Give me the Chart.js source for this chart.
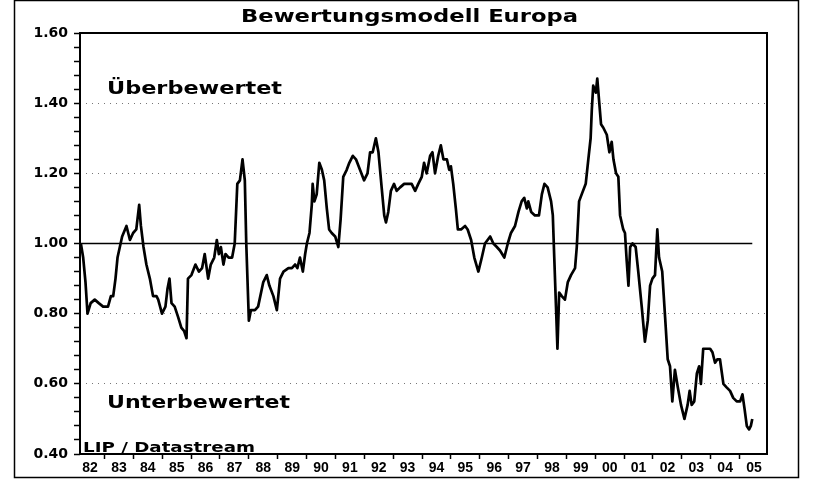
<!DOCTYPE html>
<html>
<head>
<meta charset="utf-8">
<title>Bewertungsmodell Europa</title>
<script src="https://cdn.jsdelivr.net/npm/chart.js@4/dist/chart.umd.min.js"></script>
<style>
    body { margin: 0; background: #fff; }
</style>
</head>
<body>
<canvas id="valuationChart" width="819" height="485"></canvas>
<script>
const TITLE = "Bewertungsmodell Europa";
const LABEL_OVER = "Überbewertet";
const LABEL_UNDER = "Unterbewertet";
const SOURCE = "LIP / Datastream";

const FIRST_YEAR = 1982;
const X_MIN = 1982.15;
const X_MAX = 2005.95;
const Y_MIN = 0.4;
const Y_MAX = 1.6;
const FAIR_VALUE = 1.0;

const yearLabels = ["82", "83", "84", "85", "86", "87", "88", "89", "90", "91", "92", "93",
    "94", "95", "96", "97", "98", "99", "00", "01", "02", "03", "04", "05"];

// decimal years
const dates = [
    1982.18, 1982.26, 1982.34, 1982.41, 1982.52, 1982.66, 1982.80, 1982.95, 1983.12, 1983.22,
    1983.30, 1983.38, 1983.45, 1983.53, 1983.61, 1983.76, 1983.88, 1983.99, 1984.10, 1984.20,
    1984.26, 1984.35, 1984.45, 1984.57, 1984.68, 1984.80, 1984.86, 1984.99, 1985.11, 1985.18,
    1985.25, 1985.32, 1985.43, 1985.55, 1985.66, 1985.76, 1985.84, 1985.89, 1986.01, 1986.15,
    1986.27, 1986.38, 1986.47, 1986.59, 1986.68, 1986.80, 1986.89, 1986.96, 1987.03, 1987.12,
    1987.19, 1987.30, 1987.42, 1987.51, 1987.60, 1987.69, 1987.78, 1987.86, 1987.91, 1988.00,
    1988.07, 1988.21, 1988.32, 1988.50, 1988.62, 1988.71, 1988.85, 1988.97, 1989.08, 1989.20,
    1989.37, 1989.49, 1989.60, 1989.68, 1989.77, 1989.87, 1989.95, 1990.01, 1990.10, 1990.18,
    1990.21, 1990.27, 1990.35, 1990.44, 1990.53, 1990.61, 1990.70, 1990.78, 1990.87, 1990.99,
    1991.10, 1991.18, 1991.27, 1991.39, 1991.48, 1991.60, 1991.71, 1991.85, 1991.99, 1992.11,
    1992.20, 1992.29, 1992.40, 1992.49, 1992.60, 1992.69, 1992.75, 1992.83, 1992.92, 1993.03,
    1993.12, 1993.24, 1993.38, 1993.53, 1993.64, 1993.76, 1993.87, 1993.99, 1994.07, 1994.16,
    1994.28, 1994.36, 1994.45, 1994.56, 1994.65, 1994.74, 1994.86, 1994.94, 1995.00, 1995.08,
    1995.17, 1995.24, 1995.35, 1995.49, 1995.58, 1995.70, 1995.81, 1995.95, 1996.07, 1996.18,
    1996.36, 1996.47, 1996.59, 1996.70, 1996.85, 1996.97, 1997.08, 1997.22, 1997.34, 1997.45,
    1997.54, 1997.63, 1997.68, 1997.78, 1997.91, 1998.05, 1998.15, 1998.24, 1998.35, 1998.47,
    1998.53, 1998.58, 1998.64, 1998.69, 1998.75, 1998.84, 1998.95, 1999.05, 1999.16, 1999.30,
    1999.36, 1999.44, 1999.53, 1999.67, 1999.76, 1999.84, 1999.88, 1999.93, 2000.02, 2000.07,
    2000.13, 2000.20, 2000.28, 2000.40, 2000.49, 2000.57, 2000.63, 2000.72, 2000.80, 2000.86,
    2000.97, 2001.03, 2001.09, 2001.15, 2001.21, 2001.29, 2001.40, 2001.49, 2001.61, 2001.72,
    2001.82, 2001.90, 2001.98, 2002.07, 2002.15, 2002.21, 2002.32, 2002.42, 2002.51, 2002.59,
    2002.67, 2002.76, 2002.86, 2002.97, 2003.09, 2003.20, 2003.27, 2003.34, 2003.43, 2003.52,
    2003.60, 2003.66, 2003.74, 2003.86, 2003.98, 2004.06, 2004.15, 2004.23, 2004.32, 2004.44,
    2004.55, 2004.67, 2004.78, 2004.90, 2005.02, 2005.10, 2005.17, 2005.25, 2005.33, 2005.39,
    2005.44
];

const ratio = [
    1.00, 0.96, 0.89, 0.80, 0.83, 0.84, 0.83, 0.82, 0.82, 0.85,
    0.85, 0.90, 0.96, 0.99, 1.02, 1.05, 1.01, 1.03, 1.04, 1.11,
    1.05, 0.99, 0.94, 0.90, 0.85, 0.85, 0.84, 0.80, 0.82, 0.87,
    0.90, 0.83, 0.82, 0.79, 0.76, 0.75, 0.73, 0.90, 0.91, 0.94,
    0.92, 0.93, 0.97, 0.90, 0.94, 0.96, 1.01, 0.97, 0.99, 0.94,
    0.97, 0.96, 0.96, 1.00, 1.17, 1.18, 1.24, 1.18, 1.00, 0.78,
    0.81, 0.81, 0.82, 0.89, 0.91, 0.88, 0.85, 0.81, 0.90, 0.92,
    0.93, 0.93, 0.94, 0.93, 0.96, 0.92, 0.97, 1.00, 1.03, 1.11,
    1.17, 1.12, 1.14, 1.23, 1.21, 1.18, 1.10, 1.04, 1.03, 1.02,
    0.99, 1.07, 1.19, 1.21, 1.23, 1.25, 1.24, 1.21, 1.18, 1.20,
    1.26, 1.26, 1.30, 1.26, 1.16, 1.08, 1.06, 1.09, 1.15, 1.17,
    1.15, 1.16, 1.17, 1.17, 1.17, 1.15, 1.17, 1.19, 1.23, 1.20,
    1.25, 1.26, 1.20, 1.25, 1.28, 1.24, 1.24, 1.21, 1.22, 1.17,
    1.10, 1.04, 1.04, 1.05, 1.04, 1.01, 0.96, 0.92, 0.96, 1.00,
    1.02, 1.00, 0.99, 0.98, 0.96, 1.00, 1.03, 1.05, 1.09, 1.12,
    1.13, 1.10, 1.12, 1.09, 1.08, 1.08, 1.14, 1.17, 1.16, 1.12,
    1.08, 0.96, 0.82, 0.70, 0.86, 0.85, 0.84, 0.89, 0.91, 0.93,
    0.99, 1.12, 1.14, 1.17, 1.24, 1.30, 1.38, 1.45, 1.43, 1.47,
    1.41, 1.34, 1.33, 1.31, 1.26, 1.29, 1.24, 1.20, 1.19, 1.08,
    1.04, 1.03, 0.95, 0.88, 0.99, 1.00, 0.99, 0.92, 0.82, 0.72,
    0.78, 0.88, 0.90, 0.91, 1.04, 0.96, 0.92, 0.79, 0.67, 0.65,
    0.55, 0.64, 0.59, 0.54, 0.50, 0.54, 0.58, 0.54, 0.55, 0.63,
    0.65, 0.60, 0.70, 0.70, 0.70, 0.69, 0.66, 0.67, 0.67, 0.60,
    0.59, 0.58, 0.56, 0.55, 0.55, 0.57, 0.53, 0.48, 0.47, 0.48,
    0.50
];

function isMajor(v) {
    return Math.round(v * 100) % 20 === 0;
}

// the scan is stretched sideways, so text is squeezed into the width it has there
function stretchText(ctx, text, x, y, width, font, align) {
    ctx.save();
    ctx.font = font;
    ctx.textBaseline = "alphabetic";
    ctx.textAlign = "left";
    const w = ctx.measureText(text).width;
    ctx.translate(align === "center" ? x - width / 2 : x, y);
    ctx.scale(width / w, 1);
    ctx.fillStyle = "#000";
    ctx.fillText(text, 0, 0);
    ctx.restore();
}

const framePlugin = {
    id: "frame",
    afterDraw(chart) {
        const { ctx, chartArea: a } = chart;
        ctx.save();
        ctx.strokeStyle = "#000";
        ctx.lineWidth = 2;
        ctx.strokeRect(a.left, a.top, a.right - a.left, a.bottom - a.top);
        ctx.lineWidth = 1.5;
        ctx.strokeRect(14.5, 0.5, 784, 477);
        ctx.restore();

        stretchText(ctx, TITLE, chart.width / 2, 22, 337, "bold 17px 'DejaVu Sans'", "center");
        stretchText(ctx, LABEL_OVER, a.left + 27, a.top + 61, 175, "bold 17px 'DejaVu Sans'");
        stretchText(ctx, LABEL_UNDER, a.left + 27, a.top + 375, 183, "bold 17px 'DejaVu Sans'");
        stretchText(ctx, SOURCE, a.left + 3, a.bottom - 2, 172, "bold 14px 'DejaVu Sans'");
    }
};

const ctx = document.getElementById("valuationChart").getContext("2d");
const chart = new Chart(ctx, {
    type: "line",
    data: {
        datasets: [{
            label: "Bewertung",
            data: dates.map((d, i) => ({ x: d, y: ratio[i] })),
            borderColor: "#000",
            borderWidth: 2.7,
            borderJoinStyle: "round",
            pointRadius: 0,
            tension: 0
        }, {
            label: "Fair value",
            data: [{ x: X_MIN, y: FAIR_VALUE }, { x: dates[dates.length - 1], y: FAIR_VALUE }],
            borderColor: "#000",
            borderWidth: 1.5,
            pointRadius: 0
        }]
    },
    options: {
        responsive: false,
        animation: false,
        layout: { padding: { top: 33, right: 52, bottom: 0, left: 0 } },
        plugins: {
            legend: { display: false },
            tooltip: { enabled: false }
        },
        scales: {
            x: {
                type: "linear",
                min: X_MIN,
                max: X_MAX,
                afterBuildTicks: scale => {
                    scale.ticks = yearLabels.map((_, i) => ({ value: FIRST_YEAR + i + 0.5 }));
                },
                afterFit: scale => { scale.height = 31; },
                ticks: {
                    autoSkip: false,
                    maxRotation: 0,
                    padding: 1,
                    color: "#000",
                    font: { family: "'Liberation Sans'", weight: "bold", size: 14 },
                    callback: (v, i) => yearLabels[i]
                },
                grid: {
                    offset: true,
                    drawOnChartArea: false,
                    tickLength: 5,
                    tickColor: "#000",
                    tickWidth: 1.5
                },
                border: { display: false }
            },
            y: {
                min: Y_MIN,
                max: Y_MAX,
                afterFit: scale => { scale.width = 80; },
                ticks: {
                    stepSize: 0.04,
                    autoSkip: false,
                    padding: 6,
                    color: "#000",
                    font: { family: "'DejaVu Sans'", weight: "bold", size: 14 },
                    callback: v => isMajor(v) ? v.toFixed(2) : ""
                },
                grid: {
                    color: c => {
                        const v = c.tick.value;
                        return isMajor(v) && v > Y_MIN + 0.01 && v < Y_MAX - 0.01 && Math.abs(v - FAIR_VALUE) > 0.01
                            ? "#777" : "transparent";
                    },
                    lineWidth: 1,
                    tickLength: 6,
                    tickColor: "#000",
                    tickWidth: 1.5
                },
                border: { display: false, dash: [1, 5] }
            }
        }
    },
    plugins: [framePlugin]
});
</script>
</body>
</html>
